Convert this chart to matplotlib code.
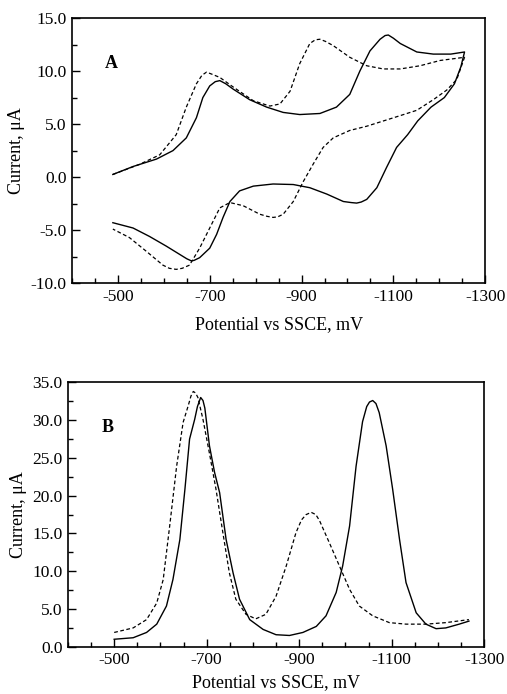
import matplotlib
matplotlib.use("Agg")
import matplotlib.pyplot as plt
from matplotlib.ticker import MultipleLocator, FormatStrFormatter

plt.rcParams['font.family'] = ['Liberation Serif', 'DejaVu Serif']
plt.rcParams['axes.unicode_minus'] = False

# ---- Panel A: cyclic voltammograms ----
a_solid_E = [-489, -533, -584, -620, -649, -671, -685, -700, -712, -722, -735, -751, -787, -824, -860, -896, -940,
             -976, -1005, -1027, -1049, -1071, -1082, -1089, -1100, -1115, -1151, -1187, -1225, -1255,
             -1247, -1233, -1211, -1182, -1153, -1131, -1107, -1085, -1064, -1042, -1030, -1020, -1008, -991,
             -955, -918, -882, -838, -795, -765, -744, -729, -715, -700, -678, -666, -660, -650, -635, -605,
             -569, -533, -489]
a_solid_I = [0.25, 1.0, 1.7, 2.5, 3.7, 5.6, 7.5, 8.6, 9.0, 9.1, 8.8, 8.3, 7.3, 6.6, 6.1, 5.9, 6.0,
             6.6, 7.8, 10.0, 11.9, 13.0, 13.35, 13.4, 13.1, 12.6, 11.8, 11.6, 11.6, 11.8,
             10.4, 8.8, 7.5, 6.6, 5.3, 4.0, 2.8, 0.9, -1.0, -2.1, -2.35, -2.45, -2.4, -2.3,
             -1.6, -1.0, -0.7, -0.65, -0.85, -1.3, -2.3, -3.8, -5.4, -6.7, -7.6, -7.85, -7.9, -7.7, -7.3, -6.5,
             -5.6, -4.8, -4.3]

a_dash_E = [-489, -547, -591, -627, -649, -671, -683, -693, -705, -722, -751, -795, -831, -853, -875, -896, -918,
            -930, -940, -952, -969, -1005, -1042, -1078, -1115, -1158, -1202, -1255,
            -1238, -1216, -1187, -1151, -1115, -1042, -1005, -969, -947, -925, -904, -882, -860,
            -848, -838, -825, -809, -773, -744, -722, -700, -678, -656, -640, -627, -612, -598, -562, -525, -489]
a_dash_I = [0.25, 1.2, 2.1, 4.0, 6.6, 8.8, 9.6, 9.9, 9.7, 9.4, 8.5, 7.2, 6.7, 6.9, 8.1, 10.7, 12.6,
            12.95, 13.0, 12.8, 12.4, 11.3, 10.5, 10.2, 10.2, 10.5, 11.0, 11.3,
            9.2, 8.2, 7.3, 6.3, 5.8, 4.8, 4.4, 3.7, 2.8, 1.2, -0.4, -2.3, -3.5,
            -3.75, -3.8, -3.7, -3.5, -2.7, -2.4, -2.9, -4.8, -6.7, -8.3, -8.6, -8.7, -8.6, -8.3, -7.0, -5.7, -4.9]

# ---- Panel B: differential pulse voltammograms ----
b_solid_E = [-500, -541, -570, -592, -613, -627, -642, -653, -663, -674, -680, -687, -692, -696, -706, -717, -728,
             -742, -757, -771, -793, -822, -850, -879, -908, -937, -958, -980, -994, -1009, -1023,
             -1037, -1046, -1052, -1059, -1066, -1073, -1088, -1102, -1117, -1131, -1153, -1174, -1196, -1217,
             -1246, -1267]
b_solid_I = [1.0, 1.2, 1.9, 3.0, 5.4, 8.9, 14.2, 20.9, 27.5, 30.1, 31.8, 33.0, 32.6, 31.6, 26.6, 23.1, 20.4,
             14.2, 9.8, 6.3, 3.6, 2.3, 1.6, 1.5, 1.9, 2.7, 4.1, 7.2, 10.7, 16.0, 23.9,
             29.8, 31.8, 32.4, 32.6, 32.2, 31.0, 26.6, 20.9, 14.2, 8.5, 4.5, 3.0, 2.4, 2.5,
             3.0, 3.4]

b_dash_E = [-500, -541, -570, -592, -606, -620, -635, -649, -660, -666, -671, -676, -681, -692, -706, -720, -735,
            -749, -763, -785, -806, -828, -850, -872, -893, -905, -915, -926, -936, -944, -965, -987, -1009,
            -1030, -1059, -1095, -1131, -1174, -1217, -1267]
b_dash_I = [1.9, 2.5, 3.6, 5.8, 8.9, 16.0, 23.9, 29.7, 31.9, 33.2, 33.8, 33.6, 33.0, 30.1, 25.6, 20.9, 15.1,
            9.8, 6.3, 4.3, 3.7, 4.3, 6.7, 10.7, 15.1, 16.8, 17.5, 17.8, 17.5, 16.7, 13.8, 10.7, 7.6,
            5.4, 4.1, 3.2, 3.0, 3.0, 3.2, 3.6]

x_ticks = [-500, -700, -900, -1100, -1300]

fig = plt.figure(figsize=(5.07, 6.94), dpi=100)
axA = fig.add_axes([0.142, 0.592, 0.815, 0.382])
axB = fig.add_axes([0.134, 0.068, 0.821, 0.381])

fs_tick = 12.5
fs_lab = 13
for ax, ylim, panel, xpad, (E1, I1, E2, I2) in [
        (axA, (-10, 15), 'A', 8, (a_solid_E, a_solid_I, a_dash_E, a_dash_I)),
        (axB, (0, 35), 'B', 4, (b_solid_E, b_solid_I, b_dash_E, b_dash_I))]:
    ax.plot(E1, I1, color='black', lw=1.0, ls='-')
    ax.plot(E2, I2, color='black', lw=0.9, ls=(0, (3, 2)))
    ax.set_xlim(-400, -1300)
    ax.set_ylim(*ylim)
    ax.set_xticks(x_ticks)
    ax.xaxis.set_minor_locator(MultipleLocator(50))
    ax.yaxis.set_major_locator(MultipleLocator(5))
    ax.yaxis.set_minor_locator(MultipleLocator(2.5))
    ax.yaxis.set_major_formatter(FormatStrFormatter('%.1f'))
    ax.tick_params(which='both', direction='in', top=False, right=False, labelsize=fs_tick, width=1.0)
    ax.tick_params(which='major', length=6, pad=4)
    ax.tick_params(which='minor', length=3.5)
    for s in ax.spines.values():
        s.set_linewidth(1.2)
    ax.set_xlabel('Potential vs SSCE, mV', fontsize=fs_lab, labelpad=xpad)
    ax.set_ylabel('Current, \u03bcA', fontsize=fs_lab, labelpad=4)
    ax.text(0.08, 0.83, panel, transform=ax.transAxes, fontsize=fs_lab, fontweight='bold',
            ha='left', va='center')

fig.savefig('out.png', dpi=100)
